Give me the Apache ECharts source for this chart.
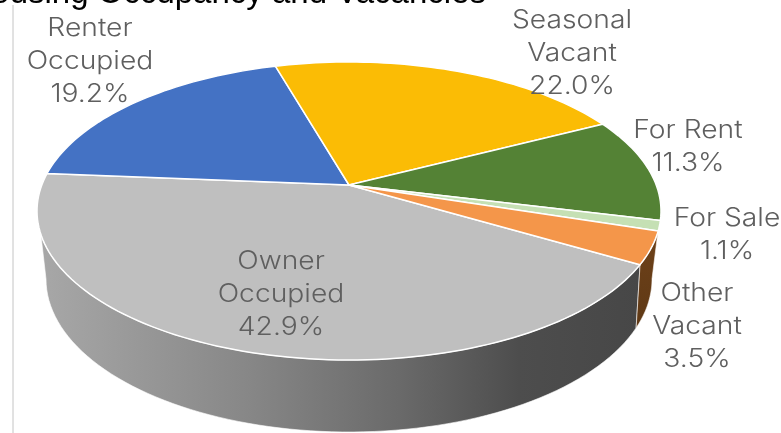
<!DOCTYPE html>
<html><head><meta charset="utf-8">
<style>html,body{margin:0;padding:0;background:#fff;overflow:hidden}#c{width:781px;height:433px;filter:blur(0.4px)}</style>
<script src="https://cdn.jsdelivr.net/npm/echarts@6/dist/echarts.min.js"></script>
</head><body><div id="c"></div>
<script>
// Data
const titleText = 'Housing Occupancy and Vacancies';
const categories = ['Owner\nOccupied', 'Renter\nOccupied', 'Seasonal\nVacant', 'For Rent', 'For Sale', 'Other\nVacant'];
const shares = [42.9, 19.2, 22.0, 11.3, 1.1, 3.5];
// Styling and layout (separate from the data)
const sliceColors = ['#BFBFBF', '#4472C4', '#FBBC05', '#548235', '#C5E0B4', '#F4964A'];
const labelCentres = [[281, 293], [90, 60], [572, 52], [688, 145], [727, 233], [697, 325]];
const firstSliceAngle = 120.2;
const topE = {cx: 349, cy: 211, rx: 312, ry: 149, tilt: 0.1745};
const baseE = {cx: 349, cy: 279, rx: 303, ry: 153};
const wallPhiTop = [98, 110.8, 261];
const wallPhiBase = [90, 108.3, 270];
const ownerWall = {type: 'linear', x: 37, y: 0, x2: 640, y2: 0, global: true, colorStops: [
  {offset: 0, color: '#A8A8A8'}, {offset: 0.35, color: '#878787'}, {offset: 0.6, color: '#6a6a6a'},
  {offset: 0.8, color: '#4d4d4d'}, {offset: 1, color: '#474747'}]};
const rad = d => d * Math.PI / 180;

function topPoint(theta) {
  const u = Math.sin(rad(theta)), v = -Math.cos(rad(theta)), a = topE.tilt;
  const d = 1 - a * v, s = Math.sqrt(1 - a * a);
  return [topE.cx + topE.rx * u * s / d, topE.cy + topE.ry * (v - a) / d];
}
function phiOf(theta) {
  const p = topPoint(theta);
  let f = Math.atan2((p[0] - topE.cx) / topE.rx, -(p[1] - topE.cy) / topE.ry) * 180 / Math.PI;
  return f < 0 ? f + 360 : f;
}
function ell(e, phi) { return [e.cx + e.rx * Math.sin(rad(phi)), e.cy - e.ry * Math.cos(rad(phi))]; }
function basePhi(f) {
  const i = f <= wallPhiTop[1] ? 0 : 1;
  return wallPhiBase[i] + (f - wallPhiTop[i]) * (wallPhiBase[i + 1] - wallPhiBase[i]) / (wallPhiTop[i + 1] - wallPhiTop[i]);
}
const total = shares.reduce((a, b) => a + b, 0);

function renderItem(params, api) {
  const i = params.dataIndex;
  let before = 0;
  for (let k = 0; k < i; k++) before += shares[k];
  const t1 = firstSliceAngle + before / total * 360;
  const t2 = t1 + api.value(0) / total * 360;
  const children = [];
  // side wall
  let f1 = phiOf(t1), f2 = phiOf(t2);
  if (f2 < f1) f2 += 360;
  const lo = Math.max(f1, wallPhiTop[0]), hi = Math.min(f2, wallPhiTop[2]);
  if (lo < hi) {
    const pts = [];
    const n = 80;
    for (let k = 0; k <= n; k++) pts.push(ell(topE, lo + (hi - lo) * k / n));
    for (let k = n; k >= 0; k--) pts.push(ell(baseE, basePhi(lo + (hi - lo) * k / n)));
    const fill = i === 0 ? ownerWall : {type: 'linear', x: 0, y: 0, x2: 0, y2: 1, colorStops: [
      {offset: 0, color: '#6E4119'}, {offset: 1, color: '#5F3915'}]};
    children.push({type: 'polygon', shape: {points: pts}, z2: 1,
      style: {fill: fill, stroke: '#fff', lineWidth: 0.6}});
  }
  // top face
  const pts = [[topE.cx, topE.cy + topE.ry * -topE.tilt]];
  const m = Math.max(4, Math.ceil((t2 - t1) / 1.5));
  for (let k = 0; k <= m; k++) pts.push(topPoint(t1 + (t2 - t1) * k / m));
  children.push({type: 'polygon', shape: {points: pts}, z2: 2,
    style: {fill: sliceColors[i], stroke: '#fff', lineWidth: 1.5, lineJoin: 'round'}});
  // label (reference text is horizontally stretched)
  children.push({type: 'text', z2: 5, x: labelCentres[i][0], y: labelCentres[i][1] + 1.5, scaleX: 1.13, style: {
    text: categories[i] + '\n' + api.value(0).toFixed(1) + '%',
    x: 0, y: 0, align: 'center', verticalAlign: 'middle',
    fontFamily: 'Inter', fontSize: 25, lineHeight: 33, fill: '#5f5f5f', fontWeight: 300}});
  return {type: 'group', children};
}

const chart = echarts.init(document.getElementById('c'), null, {renderer: 'canvas'});
chart.setOption({
  animation: false,
  backgroundColor: '#fff',
  graphic: [
    {type: 'line', shape: {x1: 13, y1: 5, x2: 13, y2: 433}, style: {stroke: '#C4C4C4', lineWidth: 1}},
    {type: 'text', x: 486, y: 10, style: {text: titleText, align: 'right', verticalAlign: 'bottom',
      fontFamily: 'Liberation Sans', fontSize: 33, fill: '#000'}, z: 10}
  ],
  series: [{type: 'custom', coordinateSystem: 'none', renderItem, data: shares.map(v => [v]), encode: {value: 0}}]
});
</script></body></html>
